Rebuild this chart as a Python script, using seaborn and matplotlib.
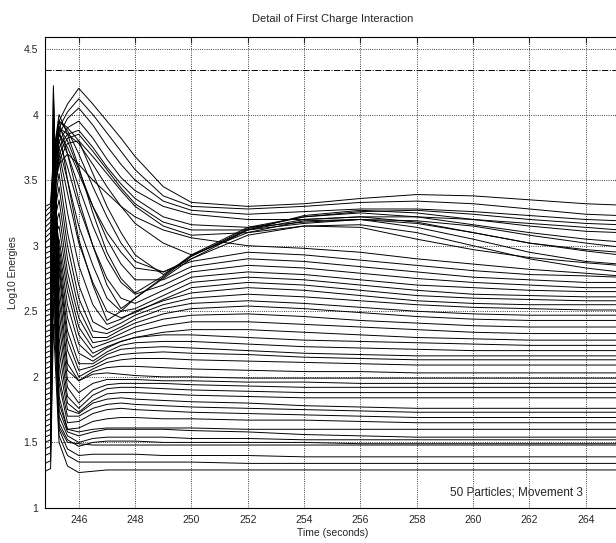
import numpy as np
import pandas as pd
import seaborn as sns
import matplotlib
matplotlib.use("Agg")
import matplotlib.pyplot as plt

# sample times (seconds) shared by every particle trace
times = [244.8, 245.0, 245.1, 245.3, 245.6, 246.0, 246.5, 247.0, 247.5, 248.0,
         249.0, 250.0, 252.0, 254.0, 256.0, 258.0, 260.0, 262.0, 264.0, 265.2]

# late peak near 246 s, settle on the ~3.3 plateau
energies_high = [
    [3.30, 3.32, 3.70, 3.95, 4.08, 4.20, 4.08, 3.95, 3.82, 3.68, 3.45, 3.33, 3.30, 3.32, 3.36, 3.39, 3.38, 3.35, 3.32, 3.31],
    [3.26, 3.30, 3.65, 3.90, 4.02, 4.12, 4.00, 3.86, 3.72, 3.58, 3.38, 3.30, 3.28, 3.30, 3.33, 3.34, 3.32, 3.28, 3.24, 3.23],
    [3.22, 3.26, 3.60, 3.85, 3.97, 4.05, 3.92, 3.76, 3.62, 3.50, 3.34, 3.27, 3.24, 3.26, 3.28, 3.28, 3.26, 3.23, 3.20, 3.19],
    [3.18, 3.22, 3.55, 3.80, 3.90, 3.95, 3.82, 3.66, 3.52, 3.42, 3.30, 3.24, 3.20, 3.20, 3.22, 3.22, 3.20, 3.17, 3.14, 3.12],
    [3.14, 3.18, 3.50, 3.75, 3.85, 3.88, 3.75, 3.60, 3.47, 3.36, 3.22, 3.16, 3.14, 3.18, 3.20, 3.19, 3.15, 3.08, 3.02, 2.99],
    [3.10, 3.14, 3.45, 3.70, 3.82, 3.85, 3.72, 3.58, 3.44, 3.32, 3.18, 3.12, 3.12, 3.17, 3.20, 3.17, 3.10, 3.02, 2.96, 2.93],
    [3.06, 3.10, 3.40, 3.65, 3.78, 3.80, 3.68, 3.55, 3.42, 3.30, 3.15, 3.08, 3.10, 3.15, 3.14, 3.05, 2.97, 2.91, 2.87, 2.85],
    [3.02, 3.06, 3.40, 3.62, 3.70, 3.62, 3.50, 3.40, 3.30, 3.22, 3.12, 3.06, 3.00, 2.98, 2.95, 2.90, 2.86, 2.82, 2.79, 2.77],
]

# dip, then climb back along the rising envelope
energies_rising = [
    [2.98, 3.00, 3.60, 3.90, 3.50, 3.05, 2.70, 2.43, 2.50, 2.60, 2.75, 2.90, 3.12, 3.23, 3.27, 3.25, 3.20, 3.15, 3.11, 3.10],
    [2.94, 2.96, 3.65, 3.95, 3.70, 3.35, 3.00, 2.70, 2.52, 2.60, 2.76, 2.92, 3.13, 3.22, 3.25, 3.22, 3.16, 3.10, 3.05, 3.03],
    [2.90, 2.92, 3.70, 4.00, 3.85, 3.60, 3.25, 2.95, 2.75, 2.64, 2.77, 2.93, 3.14, 3.22, 3.26, 3.27, 3.24, 3.20, 3.17, 3.16],
    [2.86, 2.88, 3.65, 3.95, 3.90, 3.80, 3.55, 3.30, 3.10, 2.93, 2.78, 2.92, 3.12, 3.20, 3.22, 3.18, 3.10, 3.02, 2.97, 2.95],
    [2.82, 2.84, 3.60, 3.90, 3.85, 3.78, 3.62, 3.45, 3.30, 3.17, 3.02, 2.93, 3.10, 3.19, 3.20, 3.14, 3.05, 2.95, 2.88, 2.86],
    [2.78, 2.80, 3.55, 3.85, 3.75, 3.55, 3.30, 3.10, 2.95, 2.83, 2.80, 2.90, 3.08, 3.15, 3.16, 3.10, 3.00, 2.90, 2.83, 2.80],
]

# fall to a minimum between 246.5 and 249 s, small hump, slow decline
energies_mid = [
    [2.74, 2.76, 3.60, 3.95, 3.88, 3.70, 3.45, 3.22, 3.02, 2.88, 2.80, 2.88, 2.95, 2.93, 2.89, 2.85, 2.81, 2.78, 2.77, 2.76],
    [2.70, 2.72, 3.55, 3.90, 3.80, 3.58, 3.30, 3.05, 2.86, 2.74, 2.74, 2.84, 2.90, 2.88, 2.84, 2.80, 2.76, 2.74, 2.72, 2.72],
    [2.66, 2.68, 3.50, 3.85, 3.70, 3.45, 3.15, 2.90, 2.72, 2.63, 2.70, 2.80, 2.85, 2.83, 2.79, 2.75, 2.72, 2.70, 2.68, 2.68],
    [2.62, 2.64, 3.45, 3.80, 3.60, 3.30, 3.00, 2.75, 2.60, 2.56, 2.66, 2.76, 2.80, 2.78, 2.74, 2.70, 2.68, 2.66, 2.65, 2.65],
    [2.58, 2.60, 3.40, 3.75, 3.50, 3.15, 2.85, 2.60, 2.50, 2.52, 2.62, 2.72, 2.76, 2.74, 2.70, 2.66, 2.63, 2.62, 2.61, 2.61],
    [2.54, 2.56, 3.35, 3.70, 3.40, 3.02, 2.72, 2.50, 2.45, 2.49, 2.59, 2.68, 2.72, 2.70, 2.66, 2.62, 2.60, 2.59, 2.58, 2.58],
    [2.50, 2.52, 3.30, 3.65, 3.25, 2.85, 2.55, 2.40, 2.44, 2.50, 2.58, 2.64, 2.68, 2.66, 2.62, 2.58, 2.56, 2.55, 2.55, 2.55],
    [2.46, 2.48, 3.25, 3.55, 3.10, 2.70, 2.42, 2.36, 2.41, 2.47, 2.55, 2.60, 2.63, 2.61, 2.58, 2.55, 2.53, 2.52, 2.51, 2.51],
    [2.42, 2.44, 3.20, 3.45, 3.00, 2.60, 2.35, 2.33, 2.38, 2.44, 2.52, 2.56, 2.58, 2.56, 2.53, 2.50, 2.48, 2.47, 2.47, 2.47],
    [2.38, 2.40, 3.15, 3.35, 2.90, 2.52, 2.30, 2.30, 2.36, 2.41, 2.48, 2.52, 2.54, 2.52, 2.49, 2.46, 2.44, 2.43, 2.43, 2.43],
    [2.34, 2.36, 3.10, 3.25, 2.80, 2.45, 2.26, 2.28, 2.33, 2.38, 2.44, 2.47, 2.48, 2.46, 2.43, 2.41, 2.39, 2.38, 2.38, 2.38],
    [2.30, 2.32, 3.05, 3.15, 2.72, 2.38, 2.22, 2.26, 2.30, 2.34, 2.39, 2.42, 2.42, 2.40, 2.38, 2.36, 2.34, 2.33, 2.33, 2.33],
    [2.26, 2.28, 3.00, 3.05, 2.65, 2.32, 2.18, 2.23, 2.27, 2.30, 2.34, 2.36, 2.36, 2.34, 2.32, 2.30, 2.29, 2.28, 2.28, 2.28],
]

# early spike, quick drop to ~2, nearly flat afterwards
energies_low = [
    [2.22, 2.24, 3.40, 3.00, 2.55, 2.25, 2.15, 2.22, 2.27, 2.30, 2.32, 2.32, 2.30, 2.28, 2.27, 2.26, 2.25, 2.24, 2.24, 2.24],
    [2.18, 2.20, 3.50, 2.95, 2.45, 2.18, 2.12, 2.19, 2.24, 2.26, 2.27, 2.27, 2.25, 2.23, 2.22, 2.21, 2.20, 2.20, 2.20, 2.20],
    [2.14, 2.16, 3.60, 2.90, 2.35, 2.10, 2.10, 2.17, 2.21, 2.22, 2.23, 2.22, 2.20, 2.18, 2.17, 2.16, 2.16, 2.16, 2.16, 2.16],
    [2.10, 2.12, 3.70, 2.85, 2.28, 2.05, 2.08, 2.14, 2.17, 2.18, 2.19, 2.18, 2.17, 2.15, 2.14, 2.13, 2.13, 2.13, 2.13, 2.13],
    [2.06, 2.08, 3.80, 2.80, 2.20, 2.00, 2.06, 2.11, 2.13, 2.14, 2.14, 2.13, 2.12, 2.11, 2.10, 2.09, 2.09, 2.09, 2.09, 2.09],
    [2.02, 2.04, 3.90, 2.70, 2.10, 1.97, 2.04, 2.07, 2.08, 2.08, 2.07, 2.06, 2.05, 2.04, 2.04, 2.03, 2.03, 2.03, 2.03, 2.03],
    [1.98, 2.00, 4.00, 2.60, 2.05, 1.97, 2.02, 2.03, 2.02, 2.01, 2.00, 2.00, 1.99, 1.99, 1.99, 1.99, 1.99, 1.99, 1.99, 1.99],
    [1.94, 1.96, 4.10, 2.50, 1.98, 1.88, 1.95, 1.98, 1.98, 1.98, 1.97, 1.97, 1.96, 1.96, 1.95, 1.95, 1.95, 1.95, 1.95, 1.95],
    [1.90, 1.92, 4.15, 2.40, 1.92, 1.80, 1.90, 1.94, 1.95, 1.95, 1.95, 1.94, 1.93, 1.92, 1.92, 1.92, 1.92, 1.92, 1.92, 1.92],
    [1.86, 1.88, 4.20, 2.30, 1.85, 1.76, 1.86, 1.91, 1.92, 1.92, 1.91, 1.90, 1.89, 1.88, 1.88, 1.88, 1.88, 1.88, 1.88, 1.88],
    [1.82, 1.84, 4.22, 2.20, 1.80, 1.73, 1.82, 1.87, 1.88, 1.88, 1.87, 1.86, 1.85, 1.84, 1.84, 1.84, 1.84, 1.84, 1.84, 1.84],
]

# fastest drop, settle in the 1.3 - 1.8 band
energies_bottom = [
    [1.78, 1.80, 3.90, 2.10, 1.75, 1.72, 1.80, 1.83, 1.84, 1.83, 1.82, 1.81, 1.80, 1.78, 1.77, 1.76, 1.76, 1.76, 1.76, 1.76],
    [1.74, 1.76, 3.80, 2.00, 1.70, 1.70, 1.76, 1.79, 1.80, 1.79, 1.78, 1.77, 1.76, 1.75, 1.74, 1.73, 1.73, 1.73, 1.73, 1.73],
    [1.70, 1.72, 3.60, 1.95, 1.65, 1.66, 1.72, 1.75, 1.76, 1.75, 1.74, 1.73, 1.72, 1.71, 1.70, 1.69, 1.69, 1.69, 1.69, 1.69],
    [1.66, 1.68, 3.40, 1.85, 1.60, 1.61, 1.66, 1.68, 1.69, 1.69, 1.68, 1.68, 1.67, 1.67, 1.66, 1.65, 1.65, 1.65, 1.65, 1.65],
    [1.62, 1.64, 3.30, 1.80, 1.60, 1.58, 1.60, 1.61, 1.61, 1.61, 1.61, 1.61, 1.60, 1.60, 1.60, 1.60, 1.60, 1.60, 1.60, 1.60],
    [1.58, 1.60, 3.20, 1.75, 1.58, 1.55, 1.58, 1.60, 1.60, 1.60, 1.60, 1.59, 1.58, 1.56, 1.55, 1.54, 1.54, 1.54, 1.54, 1.54],
    [1.54, 1.56, 3.10, 1.70, 1.55, 1.50, 1.53, 1.54, 1.54, 1.54, 1.54, 1.53, 1.53, 1.52, 1.52, 1.52, 1.52, 1.52, 1.52, 1.52],
    [1.50, 1.52, 3.00, 1.65, 1.52, 1.47, 1.50, 1.51, 1.51, 1.51, 1.50, 1.50, 1.50, 1.50, 1.49, 1.49, 1.49, 1.49, 1.49, 1.49],
    [1.45, 1.47, 2.90, 1.62, 1.50, 1.49, 1.48, 1.48, 1.48, 1.48, 1.48, 1.48, 1.48, 1.48, 1.48, 1.48, 1.48, 1.48, 1.48, 1.48],
    [1.40, 1.42, 2.80, 1.60, 1.45, 1.40, 1.41, 1.41, 1.41, 1.41, 1.40, 1.40, 1.40, 1.39, 1.39, 1.39, 1.39, 1.39, 1.39, 1.39],
    [1.34, 1.36, 2.60, 1.55, 1.40, 1.35, 1.35, 1.35, 1.35, 1.35, 1.35, 1.35, 1.34, 1.34, 1.34, 1.34, 1.34, 1.34, 1.34, 1.34],
    [1.28, 1.30, 2.40, 1.50, 1.32, 1.27, 1.28, 1.29, 1.29, 1.29, 1.29, 1.29, 1.29, 1.29, 1.29, 1.29, 1.29, 1.29, 1.29, 1.29],
]

threshold = 4.34
xticks = [246, 248, 250, 252, 254, 256, 258, 260, 262, 264]
yticks = [1, 1.5, 2, 2.5, 3, 3.5, 4, 4.5]
ytick_labels = ["1", "1.5", "2", "2.5", "3", "3.5", "4", "4.5"]

# long-form table, one unit per particle
rows = []
pid = 0
for group in [energies_high, energies_rising, energies_mid, energies_low, energies_bottom]:
    for trace in group:
        for t, e in zip(times, trace):
            rows.append((pid, t, e))
        pid += 1
df = pd.DataFrame(rows, columns=["particle", "time", "energy"])

sns.set_style("white")
plt.rcParams["font.family"] = ["Liberation Sans", "DejaVu Sans"]

fig = plt.figure(figsize=(6.16, 5.43), dpi=100)
ax = fig.add_axes([0.073, 0.0645, 0.935, 0.867])

sns.lineplot(data=df, x="time", y="energy", units="particle", estimator=None,
             color="black", linewidth=0.7, ax=ax, legend=False)
ax.axhline(threshold, color="black", linestyle="-.", linewidth=0.7)

ax.set_xlim(244.8, 265.25)
ax.set_ylim(1, 4.59)
ax.set_xticks(xticks)
ax.set_xticklabels([str(x) for x in xticks])
ax.set_yticks(yticks)
ax.set_yticklabels(ytick_labels)
ax.tick_params(direction="in", top=True, right=True, length=4, labelsize=7.5, pad=5)
ax.grid(True, color="black", linestyle=":", linewidth=0.6)
for sp in ax.spines.values():
    sp.set_color("black")
    sp.set_linewidth(0.8)

ax.set_title("Detail of First Charge Interaction", fontsize=8, pad=11)
ax.set_xlabel("Time (seconds)", fontsize=7.5, labelpad=2)
ax.set_ylabel("Log10 Energies", fontsize=7.5, labelpad=4)
ax.text(263.9, 1.12, "50 Particles; Movement 3", fontsize=8.5, ha="right", va="center")

fig.savefig("out.png", dpi=100)
